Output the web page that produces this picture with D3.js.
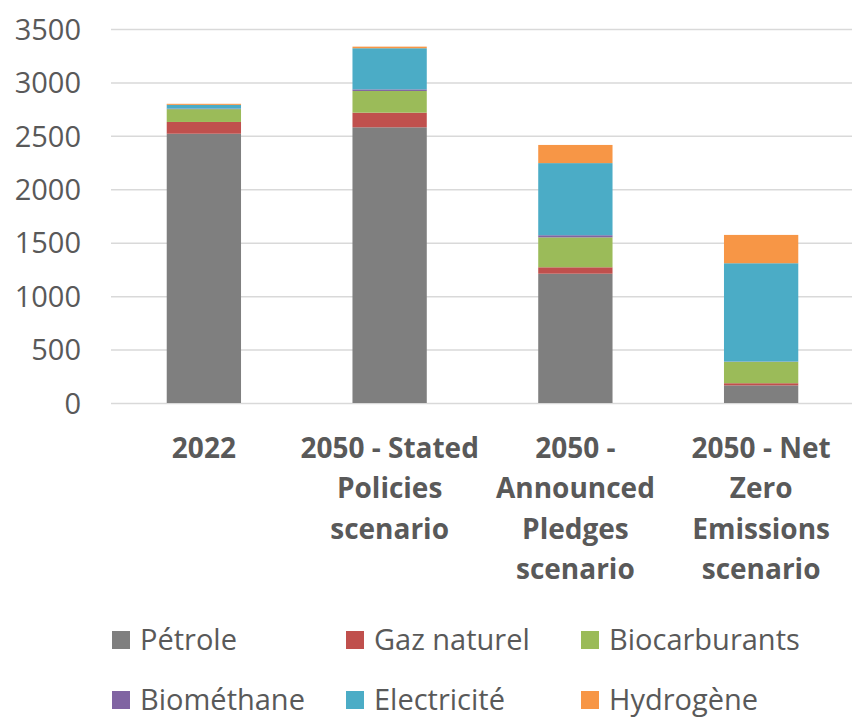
<!DOCTYPE html>
<html><head><meta charset="utf-8">
<script src="https://cdn.jsdelivr.net/npm/d3@7"></script>
<style>body{margin:0;background:#fff}svg{display:block}text{font-family:"Open Sans",sans-serif}</style>
</head><body><svg id="c" width="852" height="719"></svg>
<script>
const categories = ["2022", "2050 - Stated Policies scenario", "2050 - Announced Pledges scenario", "2050 - Net Zero Emissions scenario"];
const categoryLines = [["2022"], ["2050 - Stated", "Policies", "scenario"], ["2050 -", "Announced", "Pledges", "scenario"], ["2050 - Net", "Zero", "Emissions", "scenario"]];
const seriesNames = ["Pétrole", "Gaz naturel", "Biocarburants", "Biométhane", "Electricité", "Hydrogène"];
const petrole = [2520, 2580, 1210, 165];
const gazNaturel = [110, 137, 60, 20];
const biocarburants = [120, 203, 280, 200];
const biomethane = [5, 15, 20, 3];
const electricite = [35, 385, 675, 920];
const hydrogene = [10, 15, 170, 265];
const yTicks = [0, 500, 1000, 1500, 2000, 2500, 3000, 3500];
const colors = ["#7f7f7f", "#c0504d", "#9bbb59", "#8064a2", "#4bacc6", "#f79646"];

const seriesValues = [petrole, gazNaturel, biocarburants, biomethane, electricite, hydrogene];
const rows = categories.map((c, i) => {
  const r = {cat: c};
  seriesNames.forEach((s, j) => r[s] = seriesValues[j][i]);
  return r;
});
const stacked = d3.stack().keys(seriesNames)(rows);

const svg = d3.select("#c");
const mLeft = 111, mRight = 854, mTop = 29, mBottom = 403;
const x = d3.scaleBand().domain(categories).range([mLeft, mRight]).paddingInner(0.6).paddingOuter(0.3);
const y = d3.scaleLinear().domain([0, 3500]).range([mBottom, mTop]);

// gridlines + y labels
const ya = svg.append("g").attr("transform", `translate(${mLeft},0)`)
  .call(d3.axisLeft(y).tickValues(yTicks).tickFormat(d3.format("d")).tickSize(-(852 - mLeft)).tickPadding(30));
ya.select(".domain").remove();
ya.selectAll(".tick line").attr("stroke", "#d9d9d9").attr("stroke-width", 1.5);
ya.selectAll(".tick text").attr("fill", "#595959").attr("font-size", 29).attr("dy", "0.35em")
  .attr("font-family", '"Open Sans",sans-serif');

// bars
svg.append("g").selectAll("g").data(stacked).join("g")
  .attr("fill", (d, i) => colors[i])
  .selectAll("rect").data(d => d).join("rect")
  .attr("x", d => x(d.data.cat))
  .attr("width", x.bandwidth())
  .attr("y", d => y(d[1]))
  .attr("height", d => y(d[0]) - y(d[1]));

// x labels
const xa = svg.append("g").attr("transform", `translate(0,${mBottom})`)
  .call(d3.axisBottom(x).tickSize(0).tickFormat(""));
xa.select(".domain").remove();
xa.selectAll(".tick").each(function(d, i) {
  const t = d3.select(this).append("text").attr("fill", "#595959").attr("font-size", 28)
    .attr("font-weight", "bold").attr("text-anchor", "middle");
  categoryLines[i].forEach((ln, k) => {
    t.append("tspan").attr("x", 0).attr("y", 45 + k * 40.5).attr("dy", "0.35em").text(ln);
  });
});

// legend
const legendPos = [[112, 640], [346, 640], [581, 640], [112, 700], [346, 700], [581, 700]];
const lg = svg.append("g").selectAll("g").data(seriesNames).join("g")
  .attr("transform", (d, i) => `translate(${legendPos[i][0]},${legendPos[i][1]})`);
lg.append("rect").attr("x", 0).attr("y", -9).attr("width", 18).attr("height", 18).attr("fill", (d, i) => colors[i]);
lg.append("text").attr("x", 28).attr("y", 0).attr("dy", "0.35em").attr("fill", "#595959")
  .attr("font-size", 29).text(d => d);
</script></body></html>
